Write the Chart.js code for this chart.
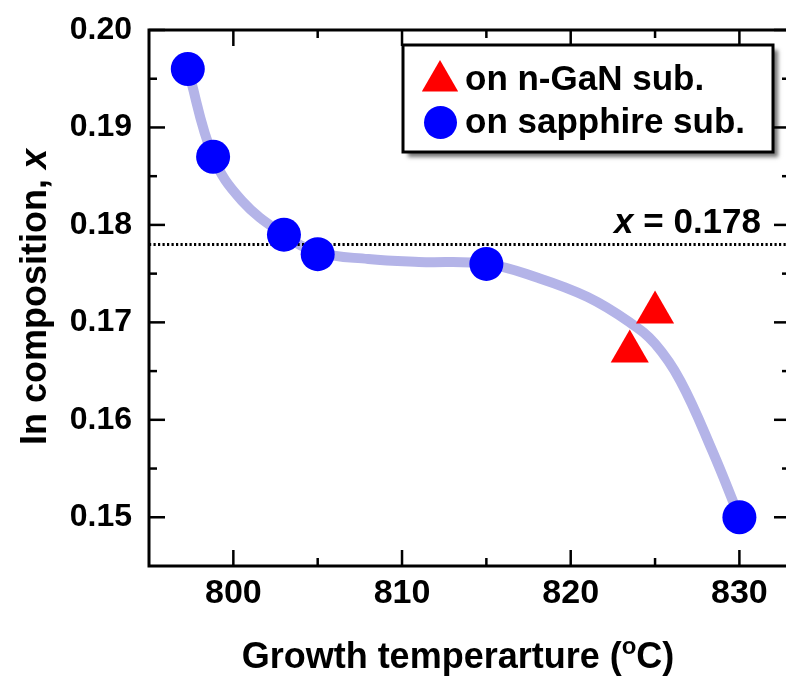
<!DOCTYPE html>
<html>
<head>
<meta charset="utf-8">
<script src="https://cdn.jsdelivr.net/npm/chart.js@4.4.0/dist/chart.umd.min.js"></script>
<style>
  html, body { margin: 0; padding: 0; background: #fff; overflow: hidden; }
  #wrap { position: relative; width: 786px; height: 684px; overflow: hidden; }
  #myChart { position: absolute; left: 0; top: 0; }
</style>
</head>
<body>
<div id="wrap"><canvas id="myChart" width="800" height="684"></canvas></div>
<script>
const FONT = "'Liberation Sans', Arial, Helvetica, sans-serif";

// InGaN layers grown on sapphire
const sapphireTemp = [797.3, 798.8, 803, 805, 815, 830];
const sapphireX = [0.196, 0.187, 0.179, 0.177, 0.176, 0.150];

// InGaN layers grown on n-GaN substrate
const ganTemp = [823.5, 825];
const ganX = [0.167, 0.171];

// guide-to-the-eye trend curve
const curveTemp = [797.3, 798.8, 800.5, 803, 805, 808, 811, 815, 818, 821, 823.5, 825, 826.5, 828.4, 830];
const curveX = [0.196, 0.187, 0.1825, 0.179, 0.1772, 0.1765, 0.1762, 0.176, 0.1746, 0.1726, 0.1700, 0.1678, 0.1640, 0.1568, 0.150];

const refX = 0.178;
const xTicks = [800, 810, 820, 830];
const xMinor = [805, 815, 825];
const yTicks = [0.15, 0.16, 0.17, 0.18, 0.19, 0.20];
const yMinor = [0.155, 0.165, 0.175, 0.185, 0.195];

const toPts = (xs, ys) => xs.map((v, i) => ({ x: v, y: ys[i] }));

// frame, inward ticks, axis titles, legend box and the x = 0.178 note
const decorations = {
    id: 'decorations',
    afterDraw(chart) {
        const ctx = chart.ctx;
        const a = chart.chartArea;
        const xs = chart.scales.x;
        const ys = chart.scales.y;
        ctx.save();
        ctx.strokeStyle = '#000';
        ctx.lineWidth = 3;
        ctx.strokeRect(a.left, a.top, a.right - a.left, a.bottom - a.top);

        ctx.lineWidth = 2.5;
        const tick = (x1, y1, x2, y2) => {
            ctx.beginPath();
            ctx.moveTo(x1, y1);
            ctx.lineTo(x2, y2);
            ctx.stroke();
        };
        xTicks.concat(xMinor).forEach(v => {
            const len = xTicks.includes(v) ? 16 : 8;
            const px = xs.getPixelForValue(v);
            tick(px, a.bottom, px, a.bottom - len);
            tick(px, a.top, px, a.top + len);
        });
        yTicks.concat(yMinor).forEach(v => {
            const len = yTicks.includes(v) ? 16 : 8;
            const py = ys.getPixelForValue(v);
            tick(a.left, py, a.left + len, py);
            tick(a.right, py, a.right - len, py);
        });

        ctx.fillStyle = '#000';
        ctx.textBaseline = 'alphabetic';
        ctx.textAlign = 'left';

        // x axis title with superscript o
        const big = 'bold 36px ' + FONT;
        const small = 'bold 24px ' + FONT;
        ctx.font = big;
        const p1 = 'Growth temperarture (';
        const p3 = 'C)';
        const w1 = ctx.measureText(p1).width;
        const w3 = ctx.measureText(p3).width;
        ctx.font = small;
        const w2 = ctx.measureText('o').width;
        const tx = 458 - (w1 + w2 + w3) / 2;
        const ty = 668;
        ctx.font = big;
        ctx.fillText(p1, tx, ty);
        ctx.font = small;
        ctx.fillText('o', tx + w1, ty - 14);
        ctx.font = big;
        ctx.fillText(p3, tx + w1 + w2, ty);

        // y axis title
        ctx.save();
        ctx.translate(46, 297);
        ctx.rotate(-Math.PI / 2);
        ctx.font = big;
        const q1 = 'In composition, ';
        const wq1 = ctx.measureText(q1).width;
        ctx.font = 'italic ' + big;
        const wq2 = ctx.measureText('x').width;
        const qx = -(wq1 + wq2) / 2;
        ctx.font = big;
        ctx.fillText(q1, qx, 0);
        ctx.font = 'italic ' + big;
        ctx.fillText('x', qx + wq1, 0);
        ctx.restore();

        // reference line note
        const ry = ys.getPixelForValue(refX) - 11;
        ctx.font = 'bold 35px ' + FONT;
        const r2 = ' = 0.178';
        const wr2 = ctx.measureText(r2).width;
        ctx.fillText(r2, 761 - wr2, ry);
        ctx.font = 'italic bold 35px ' + FONT;
        const wr1 = ctx.measureText('x').width;
        ctx.fillText('x', 761 - wr2 - wr1, ry);

        // legend box with drop shadow
        const L = 403, T = 45, R = 773, B = 152;
        ctx.save();
        ctx.shadowColor = 'rgba(0,0,0,0.55)';
        ctx.shadowBlur = 4;
        ctx.shadowOffsetX = 5;
        ctx.shadowOffsetY = 5;
        ctx.fillStyle = '#fff';
        ctx.fillRect(L, T, R - L, B - T);
        ctx.restore();
        ctx.lineWidth = 3;
        ctx.strokeRect(L, T, R - L, B - T);

        const ds = chart.data.datasets;
        ctx.fillStyle = ds[2].backgroundColor;
        Chart.helpers.drawPoint(ctx, { pointStyle: 'triangle', radius: 21, borderWidth: 0 }, 440, 81);
        ctx.fillStyle = ds[3].backgroundColor;
        Chart.helpers.drawPoint(ctx, { pointStyle: 'circle', radius: 16.5, borderWidth: 0 }, 440.5, 122.5);

        ctx.fillStyle = '#000';
        ctx.font = 'bold 35px ' + FONT;
        ctx.fillText(ds[2].label, 465, 90);
        ctx.fillText(ds[3].label, 465, 133);
        ctx.restore();
    }
};

const tickFont = size => ({ family: FONT, size: size, weight: 'bold' });

new Chart(document.getElementById('myChart').getContext('2d'), {
    type: 'scatter',
    data: {
        datasets: [
            {
                label: 'trend',
                data: toPts(curveTemp, curveX),
                showLine: true,
                borderColor: 'rgb(180, 180, 232)',
                borderWidth: 10,
                borderCapStyle: 'round',
                tension: 0.4,
                pointRadius: 0,
                order: 3
            },
            {
                label: 'reference',
                data: [{ x: 795, y: refX }, { x: 833, y: refX }],
                showLine: true,
                borderColor: '#000',
                borderWidth: 3,
                borderDash: [2.2, 2.3],
                pointRadius: 0,
                order: 2
            },
            {
                label: 'on n-GaN sub.',
                data: toPts(ganTemp, ganX),
                pointStyle: 'triangle',
                pointRadius: 22,
                pointBorderWidth: 0,
                backgroundColor: '#ff0000',
                borderColor: '#ff0000',
                order: 1
            },
            {
                label: 'on sapphire sub.',
                data: toPts(sapphireTemp, sapphireX),
                pointStyle: 'circle',
                pointRadius: 17,
                pointBorderWidth: 0,
                backgroundColor: '#0000ff',
                borderColor: '#0000ff',
                order: 0
            }
        ]
    },
    options: {
        responsive: false,
        animation: false,
        layout: {
            autoPadding: false,
            padding: { top: 30, right: 10, left: 0, bottom: 0 }
        },
        plugins: {
            legend: { display: false },
            tooltip: { enabled: false }
        },
        scales: {
            x: {
                type: 'linear',
                min: 795,
                max: 833,
                grid: { display: false, drawTicks: false },
                border: { display: false },
                afterBuildTicks: s => { s.ticks = xTicks.map(v => ({ value: v })); },
                afterFit: s => {
                    s.height = 118;
                    s.paddingLeft = 0;
                    s.paddingRight = 0;
                },
                ticks: { font: tickFont(34), color: '#000', padding: 7 }
            },
            y: {
                type: 'linear',
                min: 0.145,
                max: 0.20,
                grid: { display: false, drawTicks: false },
                border: { display: false },
                afterBuildTicks: s => { s.ticks = yTicks.map(v => ({ value: v })); },
                afterFit: s => {
                    s.width = 149;
                    s.paddingTop = 0;
                    s.paddingBottom = 0;
                },
                ticks: {
                    font: tickFont(32),
                    color: '#000',
                    padding: 17,
                    callback: v => v.toFixed(2)
                }
            }
        }
    },
    plugins: [decorations]
});
</script>
</body>
</html>
